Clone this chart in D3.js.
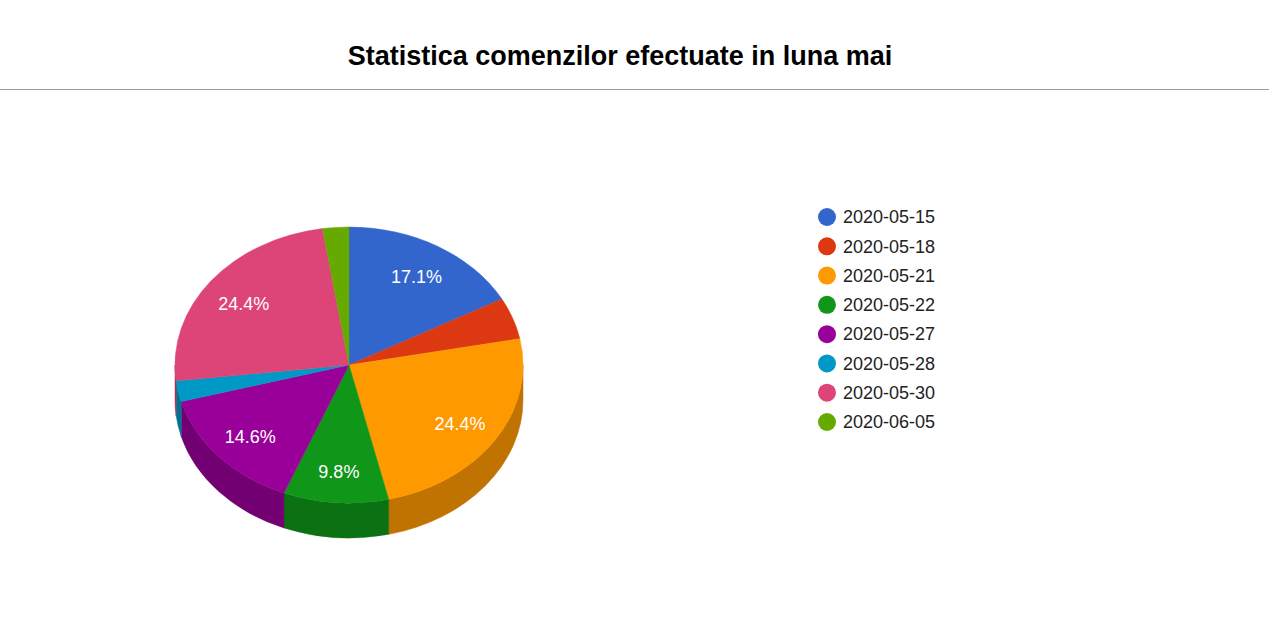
<!DOCTYPE html>
<html>
<head>
<meta charset="utf-8">
<script src="https://cdn.jsdelivr.net/npm/d3@7"></script>
<style>
  body { margin: 0; background: #fff; }
  svg { display: block; font-family: Arial, "Liberation Sans", sans-serif; }
</style>
</head>
<body>
<svg id="chart" width="1269" height="641"></svg>
<script>
// Chart data
const titleText = "Statistica comenzilor efectuate in luna mai";
const dates = ["2020-05-15", "2020-05-18", "2020-05-21", "2020-05-22", "2020-05-27", "2020-05-28", "2020-05-30", "2020-06-05"];
const orders = [7, 2, 10, 4, 6, 1, 10, 1];
const sliceColors = ["#3366cc", "#dc3912", "#ff9900", "#109618", "#990099", "#0099c6", "#dd4477", "#66aa00"];

const width = 1269, height = 641;
const svg = d3.select("#chart");

// Title and the rule under it
svg.append("text")
  .attr("x", 620)
  .attr("y", 65)
  .attr("text-anchor", "middle")
  .attr("font-size", "27px")
  .attr("font-weight", "bold")
  .attr("fill", "#000")
  .text(titleText);

svg.append("line")
  .attr("x1", 0).attr("x2", width)
  .attr("y1", 89.5).attr("y2", 89.5)
  .attr("stroke", "#9a9a9a")
  .attr("stroke-width", 1);

// 3D pie geometry
const cx = 349, cy = 365, rx = 174, ry = 138, depth = 35;
const total = d3.sum(orders);

const pie = d3.pie().sort(null).value(d => d.value);
const arcs = pie(dates.map((d, i) => ({ date: d, value: orders[i], color: sliceColors[i] })));

function pt(a, dy = 0) {
  return [cx + rx * Math.sin(a), cy - ry * Math.cos(a) + dy];
}

// Sides (only the front half of the cylinder is visible)
const sides = svg.append("g");
arcs.forEach(d => {
  const s = Math.max(d.startAngle, Math.PI / 2);
  const e = Math.min(d.endAngle, 3 * Math.PI / 2);
  if (e <= s) return;
  const p0 = pt(s), p1 = pt(e), q1 = pt(e, depth), q0 = pt(s, depth);
  const path = `M${p0}A${rx},${ry} 0 0 1 ${p1}L${q1}A${rx},${ry} 0 0 0 ${q0}Z`;
  sides.append("path")
    .attr("d", path)
    .attr("fill", d3.color(d.data.color).darker(0.8))
    .attr("stroke", d3.color(d.data.color).darker(0.8))
    .attr("stroke-width", 0.5);
});

// Top faces
const tops = svg.append("g");
arcs.forEach(d => {
  const p0 = pt(d.startAngle), p1 = pt(d.endAngle);
  const large = d.endAngle - d.startAngle > Math.PI ? 1 : 0;
  tops.append("path")
    .attr("d", `M${cx},${cy}L${p0}A${rx},${ry} 0 ${large} 1 ${p1}Z`)
    .attr("fill", d.data.color)
    .attr("stroke", d.data.color)
    .attr("stroke-width", 0.5);
});

// Percentage labels
const fmt = d3.format(".1%");
arcs.forEach(d => {
  const share = d.data.value / total;
  if (share < 0.05) return;
  const mid = (d.startAngle + d.endAngle) / 2;
  const x = cx + rx * 0.76 * Math.sin(mid);
  const y = cy - ry * 0.76 * Math.cos(mid) + 2;
  svg.append("text")
    .attr("x", x)
    .attr("y", y)
    .attr("dy", "0.35em")
    .attr("text-anchor", "middle")
    .attr("font-size", "18px")
    .attr("fill", "#fff")
    .text(fmt(share));
});

// Legend
const legendY = d3.scalePoint().domain(dates).range([217, 422]);
const legend = svg.append("g").selectAll("g")
  .data(dates)
  .enter().append("g")
  .attr("transform", d => `translate(827,${legendY(d)})`);

legend.append("circle")
  .attr("r", 9)
  .attr("fill", (d, i) => sliceColors[i]);

legend.append("text")
  .attr("x", 16)
  .attr("dy", "0.35em")
  .attr("font-size", "18px")
  .attr("fill", "#222")
  .text(d => d);
</script>
</body>
</html>
